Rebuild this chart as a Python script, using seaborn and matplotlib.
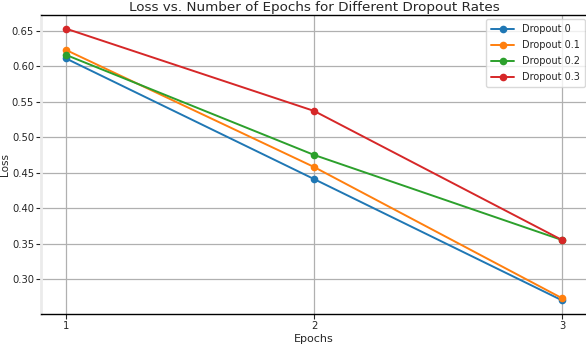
import matplotlib
matplotlib.use("Agg")
import matplotlib.pyplot as plt
import seaborn as sns
import pandas as pd

epochs = [1, 2, 3]
dropout_labels = ["Dropout 0", "Dropout 0.1", "Dropout 0.2", "Dropout 0.3"]
loss_d0 = [0.611, 0.441, 0.270]
loss_d01 = [0.623, 0.458, 0.273]
loss_d02 = [0.616, 0.475, 0.355]
loss_d03 = [0.653, 0.537, 0.355]

series = [loss_d0, loss_d01, loss_d02, loss_d03]
rows = []
for lab, vals in zip(dropout_labels, series):
    for e, v in zip(epochs, vals):
        rows.append({"Epochs": e, "Loss": v, "Dropout": lab})
df = pd.DataFrame(rows)

sns.set_style("ticks")
plt.rcParams['font.family'] = ['DejaVu Sans']

fig = plt.figure(figsize=(5.86, 3.44), dpi=100)
ax = fig.add_axes([41/586, 30/344, 546/586, 299/344])

palette = ["#1f77b4", "#ff7f0e", "#2ca02c", "#d62728"]
sns.lineplot(data=df, x="Epochs", y="Loss", hue="Dropout", palette=palette,
             marker="o", markersize=5.5, markeredgewidth=0, linewidth=1.4, ax=ax)

ax.set_xticks(epochs)
ax.set_xticklabels([str(e) for e in epochs])
ax.set_yticks([0.30, 0.35, 0.40, 0.45, 0.50, 0.55, 0.60, 0.65])
ax.tick_params(labelsize=7.2, length=3.5, width=0.8, pad=1.5)
ax.grid(True, color="#b0b0b0", linewidth=0.9)
ax.set_xlabel("Epochs", fontsize=8, labelpad=2)
ax.set_ylabel("Loss", fontsize=7.5, labelpad=1)
ax.set_title("Loss vs. Number of Epochs for Different Dropout Rates", fontsize=9.7, pad=3)

for s in ["top", "bottom"]:
    ax.spines[s].set_color("black")
    ax.spines[s].set_linewidth(1.0)
ax.spines["left"].set_color("#ebebeb")
ax.spines["left"].set_linewidth(2.0)
ax.spines["right"].set_visible(False)

leg = ax.legend(loc="upper right", bbox_to_anchor=(0.996, 0.985), fontsize=7,
                frameon=True, framealpha=0.8, borderpad=0.5, handlelength=2.4,
                labelspacing=0.62, borderaxespad=0.0)
leg.get_frame().set_edgecolor("#d0d0d0")

fig.savefig("out.png", dpi=100)
